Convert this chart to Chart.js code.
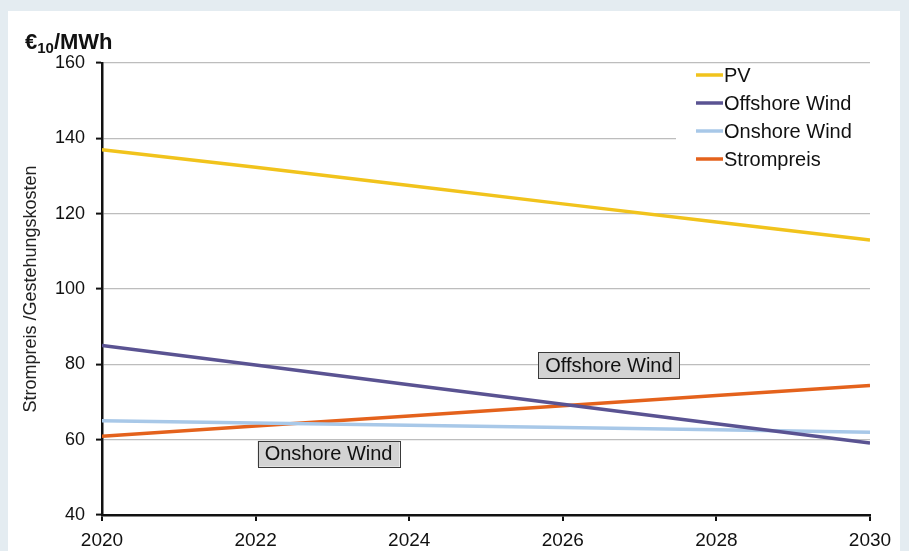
<!DOCTYPE html>
<html>
<head>
<meta charset="utf-8">
<script src="https://cdn.jsdelivr.net/npm/chart.js@4"></script>
<style>
  html, body { margin: 0; padding: 0; background: #e4ecf1; }
  #wrap { position: relative; width: 909px; height: 551px; }
</style>
</head>
<body>
<div id="wrap"><canvas id="chart" width="909" height="551"></canvas></div>
<script>
// === DATEN ===
const jahre = [2020, 2022, 2024, 2026, 2028, 2030];
const pv = [137, 132.3, 127.5, 122.6, 117.8, 113];
const offshoreWind = [85, 79.8, 74.6, 69.4, 64.2, 59.1];
const onshoreWind = [65, 64.4, 63.8, 63.2, 62.6, 62];
const strompreis = [60.9, 63.6, 66.3, 69.0, 71.7, 74.4];

const yTicks = [40, 60, 80, 100, 120, 140, 160];
const einheit = { haupt: '€', index: '10', rest: '/MWh' };
const yTitel = 'Strompreis /Gestehungskosten';

// Beschriftungen im Diagramm (Datenkoordinaten)
const labelsImDiagramm = [
  { text: 'Offshore Wind', x: 2026.6, y: 79.8 },
  { text: 'Onshore Wind', x: 2022.95, y: 56.3 }
];

const FONT = '"Liberation Sans", Arial, sans-serif';

function punkte(werte) {
  return jahre.map((j, i) => ({ x: j, y: werte[i] }));
}

const serien = [
  { label: 'PV', data: pv, color: '#f1c31c' },
  { label: 'Offshore Wind', data: offshoreWind, color: '#5a5392' },
  { label: 'Onshore Wind', data: onshoreWind, color: '#a8c8e8' },
  { label: 'Strompreis', data: strompreis, color: '#e4621c' }
];

// Hintergrund, Titel, Legende und Kästen zeichnen
const extras = {
  id: 'extras',
  beforeDraw(chart) {
    const c = chart.ctx;
    c.save();
    c.fillStyle = '#e4ecf1';
    c.fillRect(0, 0, chart.width, chart.height);
    c.fillStyle = '#ffffff';
    c.fillRect(8, 11, 892, chart.height);
    c.restore();
  },
  afterDraw(chart) {
    const c = chart.ctx;
    const xs = chart.scales.x, ys = chart.scales.y;
    c.save();

    // Einheit oben links
    c.fillStyle = '#111';
    c.textBaseline = 'alphabetic';
    c.textAlign = 'left';
    c.font = 'bold 22px ' + FONT;
    let x = 25;
    c.fillText(einheit.haupt, x, 49);
    x += c.measureText(einheit.haupt).width;
    c.font = 'bold 15px ' + FONT;
    c.fillText(einheit.index, x, 53);
    x += c.measureText(einheit.index).width;
    c.font = 'bold 22px ' + FONT;
    c.fillText(einheit.rest, x, 49);

    // Y-Achsentitel
    c.save();
    c.translate(31, (ys.top + ys.bottom) / 2);
    c.rotate(-Math.PI / 2);
    c.textAlign = 'center';
    c.textBaseline = 'middle';
    c.font = '18px ' + FONT;
    c.fillStyle = '#222';
    c.fillText(yTitel, 0, 0);
    c.restore();

    // Legende
    c.fillStyle = '#ffffff';
    c.fillRect(676, ys.top + 2, xs.right - 676, 120);
    c.font = '20px ' + FONT;
    c.textBaseline = 'middle';
    serien.forEach((s, i) => {
      const yy = 75 + i * 28;
      c.strokeStyle = s.color;
      c.lineWidth = 3.5;
      c.beginPath();
      c.moveTo(696, yy);
      c.lineTo(723, yy);
      c.stroke();
      c.fillStyle = '#111';
      c.fillText(s.label, 724, yy + 1);
    });

    // Kästen im Diagramm
    c.font = '20px ' + FONT;
    labelsImDiagramm.forEach(l => {
      const cx = xs.getPixelForValue(l.x);
      const cy = ys.getPixelForValue(l.y);
      const w = c.measureText(l.text).width + 14;
      const h = 26;
      c.fillStyle = '#d3d3d3';
      c.fillRect(cx - w / 2, cy - h / 2, w, h);
      c.strokeStyle = '#3a3a3a';
      c.lineWidth = 1;
      c.strokeRect(Math.round(cx - w / 2) + 0.5, Math.round(cy - h / 2) + 0.5, Math.round(w), h);
      c.fillStyle = '#111';
      c.textAlign = 'center';
      c.fillText(l.text, cx, cy + 1);
    });
    c.restore();
  }
};

new Chart(document.getElementById('chart'), {
  type: 'line',
  data: {
    datasets: serien.map(s => ({
      label: s.label,
      data: punkte(s.data),
      borderColor: s.color,
      backgroundColor: s.color,
      borderWidth: 3.5,
      pointRadius: 0,
      tension: 0
    }))
  },
  options: {
    responsive: false,
    animation: false,
    layout: { padding: { left: 0, top: 63, right: 39, bottom: 0 } },
    plugins: { legend: { display: false }, tooltip: { enabled: false } },
    scales: {
      x: {
        type: 'linear',
        min: 2020,
        max: 2030,
        afterFit: s => { s.height = 36; },
        afterBuildTicks: s => { s.ticks = jahre.map(v => ({ value: v })); },
        ticks: {
          color: '#111',
          padding: 8,
          maxRotation: 0,
          font: { family: FONT, size: 19 },
          callback: v => String(v)
        },
        grid: { drawOnChartArea: false, tickLength: 6, color: '#111', lineWidth: 2 },
        border: { color: '#111', width: 2.5 }
      },
      y: {
        min: 40,
        max: 160,
        afterFit: s => { s.width = 102; },
        afterBuildTicks: s => { s.ticks = yTicks.map(v => ({ value: v })); },
        ticks: {
          color: '#111',
          padding: 11,
          font: { family: FONT, size: 18 }
        },
        grid: {
          color: '#bdbdbd',
          lineWidth: 1.2,
          tickLength: 6,
          tickColor: '#111',
          tickWidth: 2
        },
        border: { color: '#111', width: 2.5 }
      }
    }
  },
  plugins: [extras]
});
</script>
</body>
</html>
